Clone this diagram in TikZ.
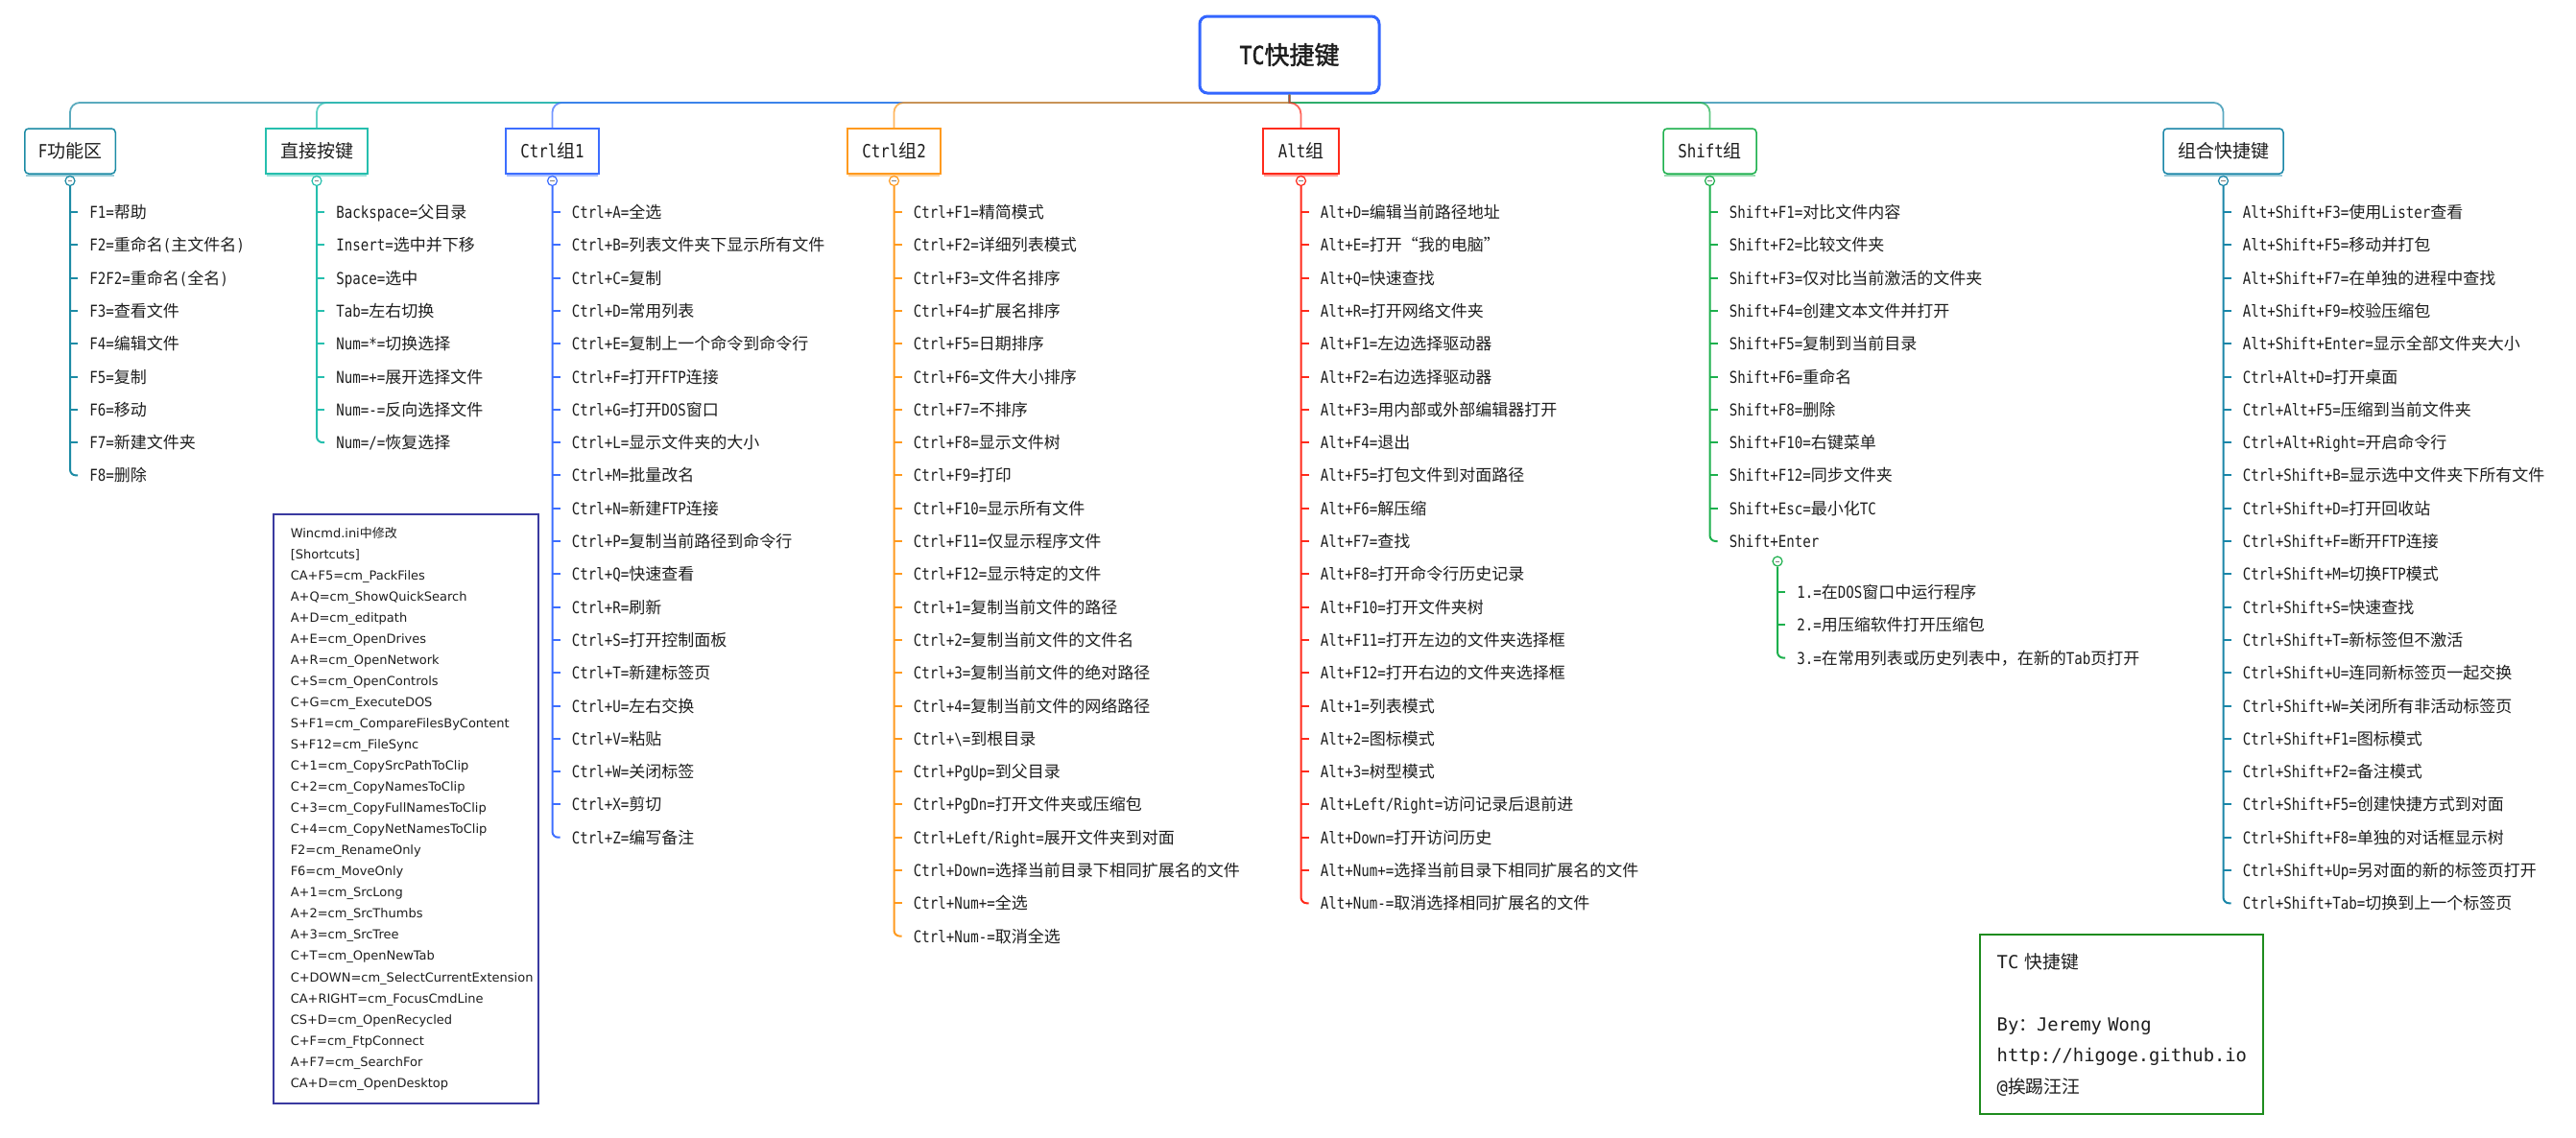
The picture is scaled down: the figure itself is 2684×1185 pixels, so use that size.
\documentclass[tikz,border=0pt]{standalone}
\usepackage{fontspec}
\newfontfamily\cjkfont{Noto Sans CJK SC}
\newfontfamily\cjkbold[FakeBold=1.5]{Noto Sans CJK SC}
\newfontfamily\latfont[FakeStretch=0.83]{DejaVu Sans Mono}
\newfontfamily\latbold[FakeStretch=0.83,FakeBold=1.5]{DejaVu Sans Mono}
\newfontfamily\latwide{DejaVu Sans Mono}
\newfontfamily\dvsans{DejaVu Sans}
\makeatletter
\chardef\cjkcls=7
\count@="4E00
\loop \XeTeXcharclass\count@=\cjkcls \advance\count@\@ne \ifnum\count@<"A000 \repeat
\count@="3000
\loop \XeTeXcharclass\count@=\cjkcls \advance\count@\@ne \ifnum\count@<"3040 \repeat
\count@="FF00
\loop \XeTeXcharclass\count@=\cjkcls \advance\count@\@ne \ifnum\count@<"FFF0 \repeat
\XeTeXcharclass"201C=\cjkcls
\XeTeXcharclass"201D=\cjkcls
\makeatother
\XeTeXinterchartoks 0 7 = {\cjkfont}
\XeTeXinterchartoks 4095 7 = {\cjkfont}
\XeTeXinterchartoks 7 0 = {\latfont}
\XeTeXinterchartoks 4095 0 = {\latfont}
\XeTeXinterchartokenstate=1
\definecolor{cF}{HTML}{1C8BA5}
\definecolor{cD}{HTML}{26BFAE}
\definecolor{cCa}{HTML}{3D6EFF}
\definecolor{cCb}{HTML}{FF9A1F}
\definecolor{cA}{HTML}{FF2B1C}
\definecolor{cS}{HTML}{1DB04D}
\definecolor{cZ}{HTML}{1A86A8}
\definecolor{cRoot}{HTML}{3366FF}
\definecolor{cWin}{HTML}{3A3AA0}
\definecolor{cInfo}{HTML}{1E8C1E}
\definecolor{txt}{HTML}{1E1E1E}
\tikzset{
  branch/.style={draw=#1, line width=0.75pt, fill=white, minimum height=23.5pt,
    inner sep=0pt, text=txt, font=\fontsize{9.5pt}{11pt}\selectfont\latfont},
  rbranch/.style={branch=#1, rounded corners=2pt},
  litem/.style={anchor=west, inner sep=0pt, text height=7.5pt, text depth=1pt,
    text=txt, font=\fontsize{8.5pt}{10pt}\selectfont\latfont},
  conn/.style={draw=#1, line width=0.9pt, draw opacity=0.72},
  spine/.style={draw=#1, line width=1pt, rounded corners=3pt},
  tick/.style={draw=#1, line width=1pt},
  shade/.style={draw=#1!45, line width=0.7pt},
  tog/.style={circle, draw=#1, fill=white, line width=0.6pt, minimum size=5pt, inner sep=0pt,
    path picture={\draw[gray, line width=0.4pt]
      ([xshift=-1.2pt]path picture bounding box.center) -- ([xshift=1.2pt]path picture bounding box.center);}},
}
\newcommand\blist[6]{%
  \foreach \t [count=\i] in {#6}{%
    \node[litem] (#1\i) at ({#2+20},{#3+(\i-1)*34.3}) {\t};
    \ifnum\i<#5 \draw[tick=#4] (#1\i.west -| t#1) -- ([xshift=-6pt]#1\i.west);\fi
  }%
  \draw[spine=#4] (t#1.south) |- ([xshift=-6pt]#1#5.west);
}
\begin{document}
\begin{tikzpicture}[x=0.5pt,y=-0.5pt]
\useasboundingbox (0,0) rectangle (2684,1185);
% root
\node[draw=cRoot, line width=1.5pt, rounded corners=4pt, fill=white, minimum width=93.5pt,
  minimum height=40pt, text=txt,
  font={\let\latfont\latbold\let\cjkfont\cjkbold\fontsize{13pt}{15pt}\selectfont\latbold}]
  (root) at (1343.5,57) {TC快捷键};
\coordinate (bus) at (1343.5,107);
% branches
\node[rbranch=cF, minimum width=47.25pt] (bF) at (73,157.5) {F功能区};
\node[branch=cD, minimum width=53pt] (bD) at (330,157.5) {直接按键};
\node[branch=cCa, minimum width=48.5pt] (bCa) at (575.5,157.5) {Ctrl组1};
\node[branch=cCb, minimum width=48.5pt] (bCb) at (931.5,157.5) {Ctrl组2};
\node[branch=cA, minimum width=39.5pt] (bA) at (1355.5,157.5) {Alt组};
\node[rbranch=cS, minimum width=48.5pt] (bS) at (1781.5,157.5) {Shift组};
\node[rbranch=cZ, minimum width=62.5pt] (bZ) at (2316.5,157.5) {组合快捷键};
% connectors root -> branches
\draw[conn=cF] (root.south) -- (bus) -- ([xshift=5pt]bus -| bF) to[out=180,in=90] ([yshift=-5pt]bus -| bF) -- (bF.north);
\draw[conn=cD] (root.south) -- (bus) -- ([xshift=5pt]bus -| bD) to[out=180,in=90] ([yshift=-5pt]bus -| bD) -- (bD.north);
\draw[conn=cCa] (root.south) -- (bus) -- ([xshift=5pt]bus -| bCa) to[out=180,in=90] ([yshift=-5pt]bus -| bCa) -- (bCa.north);
\draw[conn=cCb] (root.south) -- (bus) -- ([xshift=5pt]bus -| bCb) to[out=180,in=90] ([yshift=-5pt]bus -| bCb) -- (bCb.north);
\draw[conn=cZ] (root.south) -- (bus) -- ([xshift=-5pt]bus -| bZ) to[out=0,in=90] ([yshift=-5pt]bus -| bZ) -- (bZ.north);
\draw[conn=cS] (root.south) -- (bus) -- ([xshift=-5pt]bus -| bS) to[out=0,in=90] ([yshift=-5pt]bus -| bS) -- (bS.north);
\draw[conn=cA] (root.south) -- (bus) to[out=0,in=90] ([yshift=-6pt]bus -| bA) -- (bA.north);
% toggles and bottom shades of the branch boxes
\foreach \p in {F,D,Ca,Cb,A,S,Z}{
  \draw[shade=c\p] ([xshift=1pt,yshift=-0.7pt]b\p.south west) -- ([xshift=-1pt,yshift=-0.7pt]b\p.south east);
  \node[tog=c\p] (t\p) at ([yshift=-15.5pt]b\p.center) {};
  \draw[tick=c\p] ([yshift=-1pt]b\p.south) -- (t\p.north);
}
% lists
\blist{F}{73}{221}{cF}{9}{F1=帮助,F2=重命名(主文件名),F2F2=重命名(全名),F3=查看文件,F4=编辑文件,F5=复制,F6=移动,F7=新建文件夹,F8=删除}
\blist{D}{330}{221}{cD}{8}{Backspace=父目录,Insert=选中并下移,Space=选中,Tab=左右切换,Num=*=切换选择,Num=+=展开选择文件,Num=-=反向选择文件,Num=/=恢复选择}
\blist{Ca}{575.5}{221}{cCa}{20}{Ctrl+A=全选,Ctrl+B=列表文件夹下显示所有文件,Ctrl+C=复制,Ctrl+D=常用列表,Ctrl+E=复制上一个命令到命令行,Ctrl+F=打开FTP连接,Ctrl+G=打开DOS窗口,Ctrl+L=显示文件夹的大小,Ctrl+M=批量改名,Ctrl+N=新建FTP连接,Ctrl+P=复制当前路径到命令行,Ctrl+Q=快速查看,Ctrl+R=刷新,Ctrl+S=打开控制面板,Ctrl+T=新建标签页,Ctrl+U=左右交换,Ctrl+V=粘贴,Ctrl+W=关闭标签,Ctrl+X=剪切,Ctrl+Z=编写备注}
\blist{Cb}{931.5}{221}{cCb}{23}{Ctrl+F1=精简模式,Ctrl+F2=详细列表模式,Ctrl+F3=文件名排序,Ctrl+F4=扩展名排序,Ctrl+F5=日期排序,Ctrl+F6=文件大小排序,Ctrl+F7=不排序,Ctrl+F8=显示文件树,Ctrl+F9=打印,Ctrl+F10=显示所有文件,Ctrl+F11=仅显示程序文件,Ctrl+F12=显示特定的文件,Ctrl+1=复制当前文件的路径,Ctrl+2=复制当前文件的文件名,Ctrl+3=复制当前文件的绝对路径,Ctrl+4=复制当前文件的网络路径,Ctrl+\textbackslash=到根目录,Ctrl+PgUp=到父目录,Ctrl+PgDn=打开文件夹或压缩包,Ctrl+Left/Right=展开文件夹到对面,Ctrl+Down=选择当前目录下相同扩展名的文件,Ctrl+Num+=全选,Ctrl+Num-=取消全选}
\blist{A}{1355.5}{221}{cA}{22}{Alt+D=编辑当前路径地址,Alt+E=打开“我的电脑”,Alt+Q=快速查找,Alt+R=打开网络文件夹,Alt+F1=左边选择驱动器,Alt+F2=右边选择驱动器,Alt+F3=用内部或外部编辑器打开,Alt+F4=退出,Alt+F5=打包文件到对面路径,Alt+F6=解压缩,Alt+F7=查找,Alt+F8=打开命令行历史记录,Alt+F10=打开文件夹树,Alt+F11=打开左边的文件夹选择框,Alt+F12=打开右边的文件夹选择框,Alt+1=列表模式,Alt+2=图标模式,Alt+3=树型模式,Alt+Left/Right=访问记录后退前进,Alt+Down=打开访问历史,Alt+Num+=选择当前目录下相同扩展名的文件,Alt+Num-=取消选择相同扩展名的文件}
\blist{S}{1781.5}{221}{cS}{11}{Shift+F1=对比文件内容,Shift+F2=比较文件夹,Shift+F3=仅对比当前激活的文件夹,Shift+F4=创建文本文件并打开,Shift+F5=复制到当前目录,Shift+F6=重命名,Shift+F8=删除,Shift+F10=右键菜单,Shift+F12=同步文件夹,Shift+Esc=最小化TC,Shift+Enter}
\node[tog=cS] (tSS) at (1852,585) {};
\blist{SS}{1852}{617}{cS}{3}{1.=在DOS窗口中运行程序,2.=用压缩软件打开压缩包,3.=在常用列表或历史列表中，在新的Tab页打开}
\blist{Z}{2316.5}{221}{cZ}{22}{Alt+Shift+F3=使用Lister查看,Alt+Shift+F5=移动并打包,Alt+Shift+F7=在单独的进程中查找,Alt+Shift+F9=校验压缩包,Alt+Shift+Enter=显示全部文件夹大小,Ctrl+Alt+D=打开桌面,Ctrl+Alt+F5=压缩到当前文件夹,Ctrl+Alt+Right=开启命令行,Ctrl+Shift+B=显示选中文件夹下所有文件,Ctrl+Shift+D=打开回收站,Ctrl+Shift+F=断开FTP连接,Ctrl+Shift+M=切换FTP模式,Ctrl+Shift+S=快速查找,Ctrl+Shift+T=新标签但不激活,Ctrl+Shift+U=连同新标签页一起交换,Ctrl+Shift+W=关闭所有非活动标签页,Ctrl+Shift+F1=图标模式,Ctrl+Shift+F2=备注模式,Ctrl+Shift+F5=创建快捷方式到对面,Ctrl+Shift+F8=单独的对话框显示树,Ctrl+Shift+Up=另对面的新的标签页打开,Ctrl+Shift+Tab=切换到上一个标签页}
% Wincmd box
\node[draw=cWin, line width=0.75pt, anchor=north west, minimum width=138pt, minimum height=307pt,
  inner xsep=9pt, inner ysep=0pt, text width=120pt, align=left, text=txt,
  font={\let\latfont\dvsans\fontsize{6.5pt}{11.02pt}\selectfont\dvsans}]
  (win) at (284,535) {Wincmd.ini中修改\\
{[Shortcuts]}\\
CA+F5=cm\_PackFiles\\
A+Q=cm\_ShowQuickSearch\\
A+D=cm\_editpath\\
A+E=cm\_OpenDrives\\
A+R=cm\_OpenNetwork\\
C+S=cm\_OpenControls\\
C+G=cm\_ExecuteDOS\\
S+F1=cm\_CompareFilesByContent\\
S+F12=cm\_FileSync\\
C+1=cm\_CopySrcPathToClip\\
C+2=cm\_CopyNamesToClip\\
C+3=cm\_CopyFullNamesToClip\\
C+4=cm\_CopyNetNamesToClip\\
F2=cm\_RenameOnly\\
F6=cm\_MoveOnly\\
A+1=cm\_SrcLong\\
A+2=cm\_SrcThumbs\\
A+3=cm\_SrcTree\\
C+T=cm\_OpenNewTab\\
C+DOWN=cm\_SelectCurrentExtension\\
CA+RIGHT=cm\_FocusCmdLine\\
CS+D=cm\_OpenRecycled\\
C+F=cm\_FtpConnect\\
A+F7=cm\_SearchFor\\
CA+D=cm\_OpenDesktop};
% info box
\node[draw=cInfo, line width=1.2pt, anchor=north west, minimum width=147.5pt, minimum height=93.5pt,
  inner xsep=8.5pt, inner ysep=0pt, text width=130pt, align=left, text=txt,
  font={\let\latfont\latwide\fontsize{9.4pt}{16.25pt}\selectfont\latwide}]
  (info) at (2062,973) {TC 快捷键\\ \mbox{}\\ By：Jeremy Wong\\ http://higoge.github.io\\ @挨踢汪汪};
\end{tikzpicture}
\end{document}
